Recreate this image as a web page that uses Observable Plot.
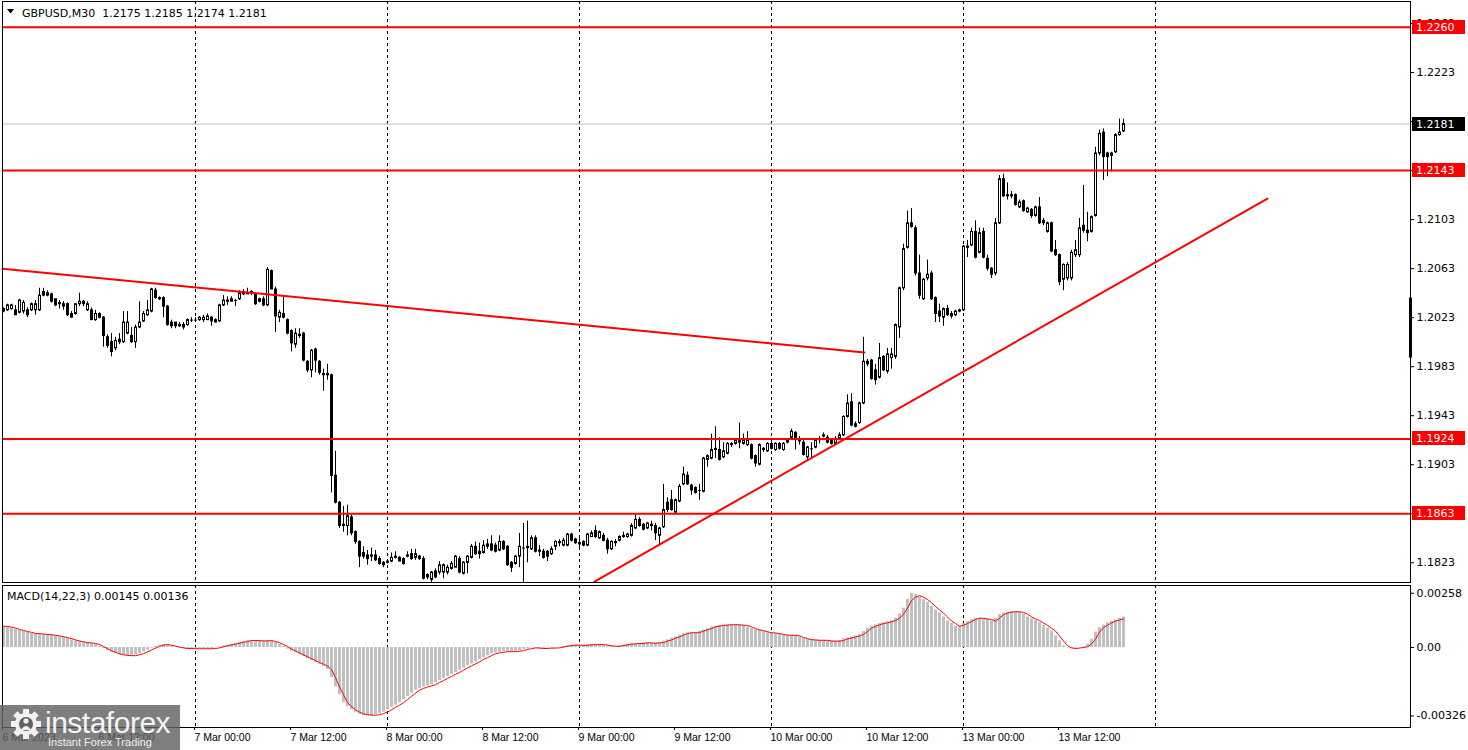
<!DOCTYPE html>
<html>
<head>
<meta charset="utf-8">
<script src="https://cdn.jsdelivr.net/npm/d3@7"></script>
<script src="https://cdn.jsdelivr.net/npm/@observablehq/plot@0.6"></script>
<style>
html,body{margin:0;padding:0;background:#fff;}
#chart{position:relative;width:1468px;height:750px;overflow:hidden;background:#fff;}
#main,#macd,#overlay,#logo{position:absolute;left:0;}
#main{top:0;}
#macd{top:583px;}
#overlay{top:0;pointer-events:none;}
#logo{top:705px;width:180px;height:45px;}
</style>
</head>
<body>
<div id="chart">
  <div id="main"></div>
  <div id="macd"></div>
  <svg id="overlay" width="1468" height="750"></svg>
  <svg id="logo" width="180" height="45">
    <rect x="0" y="0" width="180" height="45" fill="rgb(98,98,98)" fill-opacity="0.82"></rect>
    <g transform="translate(26,19)" fill="#f2f2f2">
      <circle r="11"></circle>
      <rect x="-3" y="-15" width="6" height="6"></rect>
      <rect x="-3" y="9" width="6" height="6"></rect>
      <rect x="-15" y="-3" width="6" height="6"></rect>
      <rect x="9" y="-3" width="6" height="6"></rect>
      <rect x="-3" y="-15" width="6" height="6" transform="rotate(45)"></rect>
      <rect x="-3" y="9" width="6" height="6" transform="rotate(45)"></rect>
      <rect x="-15" y="-3" width="6" height="6" transform="rotate(45)"></rect>
      <rect x="9" y="-3" width="6" height="6" transform="rotate(45)"></rect>
      <circle r="7" fill="rgb(98,98,98)"></circle>
      <circle cx="0" cy="-3" r="2.6"></circle>
      <path d="M-5,6 Q0,-2 5,6 Z"></path>
    </g>
    <text x="45" y="28" font-family="Liberation Sans" font-size="30" fill="#f4f4f4" letter-spacing="-0.5">instaforex</text>
    <text x="48" y="41" font-family="Liberation Sans" font-size="11" fill="#eeeeee">Instant Forex Trading</text>
  </svg>
</div>
<script>
// ---------------- DATA ----------------
const symbol = "GBPUSD,M30";
const macdName = "MACD(14,22,3)";
// M30 bars, bar 0 = 6 Mar 00:00 (48 bars per trading day)
const opens = [
1.2030,1.2029,1.2030,1.2029,1.2027,1.2028,1.2029,1.2029,1.2029,1.2029,1.2044,1.2043,
1.2042,1.2038,1.2035,1.2034,1.2034,1.2026,1.2026,1.2034,1.2036,1.2029,1.2029,1.2021,
1.2026,1.2023,1.2007,1.2003,1.1998,1.2005,1.2003,1.2010,1.2008,1.2003,1.2015,1.2020,
1.2025,1.2028,1.2045,1.2039,1.2039,1.2032,1.2019,1.2019,1.2017,1.2017,1.2017,1.2021,
1.2021,1.2021,1.2021,1.2021,1.2023,1.2019,1.2020,1.2033,1.2037,1.2036,1.2037,1.2038,
1.2043,1.2042,1.2043,1.2042,1.2036,1.2038,1.2033,1.2061,1.2046,1.2023,1.2026,1.2021,
1.2012,1.2001,1.2009,1.2010,1.1987,1.1980,1.1997,1.1987,1.1977,1.1976,1.1976,1.1894,
1.1872,1.1854,1.1853,1.1860,1.1848,1.1840,1.1831,1.1829,1.1829,1.1829,1.1826,1.1823,
1.1823,1.1824,1.1827,1.1827,1.1826,1.1828,1.1830,1.1827,1.1828,1.1826,1.1813,1.1809,
1.1816,1.1815,1.1815,1.1815,1.1818,1.1819,1.1826,1.1814,1.1823,1.1827,1.1836,1.1832,
1.1831,1.1836,1.1838,1.1837,1.1833,1.1840,1.1836,1.1823,1.1822,1.1828,1.1835,1.1835,
1.1834,1.1843,1.1832,1.1832,1.1832,1.1830,1.1836,1.1840,1.1837,1.1837,1.1846,1.1842,
1.1839,1.1840,1.1837,1.1844,1.1849,1.1843,1.1845,1.1841,1.1834,1.1840,1.1841,1.1845,
1.1844,1.1845,1.1851,1.1858,1.1854,1.1851,1.1854,1.1853,1.1845,1.1852,1.1872,1.1874,
1.1864,1.1873,1.1887,1.1894,1.1886,1.1884,1.1882,1.1881,1.1907,1.1908,1.1916,1.1915,
1.1909,1.1912,1.1920,1.1920,1.1923,1.1920,1.1919,1.1919,1.1910,1.1903,1.1916,1.1914,
1.1920,1.1915,1.1920,1.1915,1.1921,1.1925,1.1929,1.1923,1.1921,1.1909,1.1916,1.1917,
1.1923,1.1926,1.1925,1.1923,1.1920,1.1924,1.1927,1.1942,1.1954,1.1936,1.1937,1.1953,
1.1987,1.1988,1.1980,1.1974,1.1991,1.1979,1.1990,1.1991,1.2015,1.2047,1.2080,1.2100,
1.2096,1.2059,1.2038,1.2055,1.2059,1.2039,1.2028,1.2023,1.2030,1.2026,1.2025,1.2028,
1.2029,1.2081,1.2082,1.2093,1.2076,1.2093,1.2071,1.2063,1.2059,1.2100,1.2136,1.2123,
1.2122,1.2123,1.2113,1.2118,1.2109,1.2111,1.2106,1.2113,1.2102,1.2093,1.2100,1.2078,
1.2074,1.2054,1.2055,1.2055,1.2074,1.2074,1.2098,1.2094,1.2093,1.2106,1.2157,1.2174,
1.2157,1.2155,1.2158,1.2172,1.2175];
const highs = [
1.2031,1.2034,1.2034,1.2033,1.2038,1.2037,1.2031,1.2035,1.2037,1.2047,1.2047,1.2045,
1.2043,1.2038,1.2037,1.2036,1.2035,1.2028,1.2034,1.2043,1.2037,1.2036,1.2031,1.2029,
1.2027,1.2024,1.2009,1.2010,1.2007,1.2010,1.2028,1.2028,1.2015,1.2017,1.2036,1.2028,
1.2037,1.2047,1.2047,1.2040,1.2040,1.2033,1.2021,1.2019,1.2019,1.2019,1.2022,1.2023,
1.2023,1.2024,1.2025,1.2026,1.2024,1.2022,1.2034,1.2041,1.2040,1.2040,1.2038,1.2045,
1.2046,1.2047,1.2045,1.2043,1.2039,1.2040,1.2064,1.2062,1.2048,1.2029,1.2040,1.2022,
1.2013,1.2014,1.2014,1.2011,1.1988,1.1997,1.1998,1.1988,1.1981,1.1985,1.1977,1.1914,
1.1873,1.1869,1.1870,1.1862,1.1849,1.1841,1.1836,1.1833,1.1835,1.1833,1.1828,1.1824,
1.1825,1.1831,1.1832,1.1828,1.1827,1.1832,1.1834,1.1834,1.1829,1.1828,1.1814,1.1816,
1.1818,1.1824,1.1822,1.1821,1.1824,1.1829,1.1828,1.1824,1.1829,1.1838,1.1840,1.1839,
1.1841,1.1842,1.1845,1.1839,1.1845,1.1841,1.1837,1.1824,1.1829,1.1847,1.1855,1.1857,
1.1845,1.1845,1.1837,1.1834,1.1833,1.1836,1.1841,1.1842,1.1843,1.1847,1.1847,1.1843,
1.1843,1.1841,1.1847,1.1849,1.1853,1.1849,1.1847,1.1843,1.1841,1.1842,1.1845,1.1848,
1.1847,1.1855,1.1862,1.1860,1.1855,1.1856,1.1857,1.1855,1.1852,1.1887,1.1876,1.1882,
1.1875,1.1887,1.1901,1.1897,1.1887,1.1885,1.1887,1.1909,1.1911,1.1928,1.1934,1.1925,
1.1921,1.1921,1.1921,1.1924,1.1937,1.1928,1.1930,1.1920,1.1911,1.1920,1.1917,1.1921,
1.1922,1.1921,1.1921,1.1921,1.1924,1.1932,1.1930,1.1926,1.1923,1.1918,1.1921,1.1924,
1.1926,1.1929,1.1927,1.1924,1.1926,1.1929,1.1943,1.1960,1.1961,1.1938,1.1954,1.2007,
1.1989,1.1989,1.1985,1.2002,1.1992,1.1998,1.1998,1.2018,1.2048,1.2083,1.2110,1.2112,
1.2098,1.2074,1.2055,1.2070,1.2061,1.2040,1.2034,1.2031,1.2033,1.2028,1.2029,1.2030,
1.2082,1.2086,1.2096,1.2102,1.2096,1.2096,1.2074,1.2064,1.2104,1.2139,1.2140,1.2133,
1.2126,1.2124,1.2119,1.2119,1.2113,1.2112,1.2114,1.2121,1.2104,1.2101,1.2101,1.2086,
1.2075,1.2067,1.2068,1.2078,1.2086,1.2104,1.2131,1.2109,1.2106,1.2162,1.2176,1.2177,
1.2158,1.2158,1.2173,1.2185,1.2185];
const lows = [
1.2027,1.2028,1.2029,1.2025,1.2026,1.2026,1.2023,1.2028,1.2025,1.2028,1.2040,1.2040,
1.2035,1.2032,1.2030,1.2029,1.2024,1.2023,1.2025,1.2032,1.2032,1.2028,1.2021,1.2020,
1.2022,1.1999,1.1998,1.1991,1.1996,1.2001,1.2002,1.2009,1.2002,1.1998,1.2014,1.2019,
1.2024,1.2027,1.2038,1.2037,1.2023,1.2016,1.2014,1.2014,1.2015,1.2013,1.2016,1.2019,
1.2020,1.2020,1.2019,1.2021,1.2016,1.2019,1.2019,1.2032,1.2033,1.2036,1.2032,1.2037,
1.2041,1.2042,1.2041,1.2033,1.2035,1.2032,1.2032,1.2046,1.2011,1.2019,1.2022,1.2009,
1.1995,1.1998,1.2006,1.1987,1.1978,1.1974,1.1978,1.1976,1.1963,1.1972,1.1880,1.1871,
1.1851,1.1848,1.1845,1.1845,1.1838,1.1819,1.1826,1.1821,1.1824,1.1824,1.1821,1.1819,
1.1822,1.1823,1.1826,1.1824,1.1821,1.1827,1.1825,1.1825,1.1825,1.1809,1.1809,1.1807,
1.1810,1.1813,1.1810,1.1813,1.1817,1.1819,1.1814,1.1813,1.1814,1.1826,1.1829,1.1826,
1.1830,1.1834,1.1832,1.1831,1.1832,1.1833,1.1820,1.1815,1.1821,1.1819,1.1807,1.1823,
1.1833,1.1831,1.1828,1.1826,1.1824,1.1829,1.1833,1.1836,1.1836,1.1836,1.1840,1.1838,
1.1834,1.1836,1.1836,1.1844,1.1843,1.1842,1.1840,1.1830,1.1833,1.1836,1.1840,1.1843,
1.1843,1.1844,1.1850,1.1852,1.1849,1.1850,1.1849,1.1841,1.1838,1.1851,1.1864,1.1865,
1.1863,1.1872,1.1886,1.1886,1.1878,1.1879,1.1874,1.1880,1.1901,1.1907,1.1908,1.1906,
1.1908,1.1911,1.1917,1.1919,1.1916,1.1919,1.1918,1.1907,1.1901,1.1902,1.1913,1.1913,
1.1915,1.1914,1.1915,1.1914,1.1920,1.1924,1.1915,1.1919,1.1910,1.1906,1.1908,1.1916,
1.1920,1.1925,1.1920,1.1919,1.1919,1.1923,1.1926,1.1941,1.1934,1.1933,1.1936,1.1952,
1.1983,1.1972,1.1968,1.1973,1.1979,1.1977,1.1981,1.1989,1.2006,1.2045,1.2079,1.2096,
1.2057,1.2038,1.2037,1.2053,1.2037,1.2019,1.2019,1.2016,1.2024,1.2022,1.2024,1.2027,
1.2028,1.2072,1.2081,1.2071,1.2075,1.2071,1.2061,1.2055,1.2057,1.2099,1.2121,1.2119,
1.2120,1.2114,1.2112,1.2109,1.2108,1.2104,1.2105,1.2099,1.2098,1.2092,1.2076,1.2073,
1.2049,1.2045,1.2053,1.2053,1.2072,1.2072,1.2092,1.2085,1.2092,1.2105,1.2155,1.2135,
1.2138,1.2142,1.2157,1.2171,1.2174];
const closes = [
1.2028,1.2033,1.2033,1.2025,1.2037,1.2035,1.2025,1.2034,1.2034,1.2041,1.2041,1.2041,
1.2036,1.2033,1.2034,1.2032,1.2025,1.2023,1.2034,1.2036,1.2034,1.2034,1.2021,1.2026,
1.2023,1.2008,1.2000,1.1995,1.2004,1.2003,1.2019,1.2019,1.2003,1.2015,1.2019,1.2026,
1.2029,1.2046,1.2039,1.2038,1.2032,1.2017,1.2016,1.2016,1.2016,1.2015,1.2021,1.2021,
1.2021,1.2023,1.2023,1.2024,1.2020,1.2021,1.2033,1.2037,1.2036,1.2038,1.2037,1.2043,
1.2042,1.2043,1.2044,1.2034,1.2038,1.2033,1.2062,1.2046,1.2024,1.2027,1.2023,1.2010,
1.2002,1.2010,1.2008,1.1988,1.1980,1.1996,1.1988,1.1978,1.1976,1.1977,1.1894,1.1872,
1.1853,1.1853,1.1861,1.1847,1.1840,1.1828,1.1828,1.1826,1.1828,1.1825,1.1822,1.1821,
1.1824,1.1827,1.1828,1.1824,1.1822,1.1829,1.1826,1.1830,1.1826,1.1810,1.1811,1.1815,
1.1811,1.1821,1.1821,1.1819,1.1822,1.1828,1.1815,1.1823,1.1828,1.1836,1.1830,1.1830,
1.1837,1.1838,1.1833,1.1832,1.1840,1.1834,1.1821,1.1819,1.1828,1.1836,1.1835,1.1836,
1.1843,1.1832,1.1833,1.1827,1.1828,1.1834,1.1840,1.1839,1.1841,1.1846,1.1841,1.1839,
1.1838,1.1837,1.1846,1.1847,1.1844,1.1848,1.1841,1.1834,1.1840,1.1839,1.1844,1.1844,
1.1846,1.1853,1.1858,1.1853,1.1850,1.1855,1.1853,1.1847,1.1851,1.1866,1.1866,1.1866,
1.1874,1.1885,1.1895,1.1887,1.1882,1.1880,1.1882,1.1908,1.1910,1.1915,1.1915,1.1907,
1.1914,1.1920,1.1919,1.1923,1.1921,1.1923,1.1923,1.1908,1.1904,1.1919,1.1915,1.1920,
1.1916,1.1920,1.1916,1.1920,1.1923,1.1930,1.1924,1.1922,1.1911,1.1917,1.1916,1.1923,
1.1924,1.1927,1.1921,1.1920,1.1924,1.1927,1.1942,1.1953,1.1935,1.1934,1.1953,1.1987,
1.1985,1.1973,1.1972,1.1990,1.1980,1.1993,1.1993,1.2017,1.2047,1.2079,1.2100,1.2097,
1.2059,1.2041,1.2054,1.2058,1.2038,1.2026,1.2024,1.2030,1.2025,1.2024,1.2028,1.2029,
1.2081,1.2080,1.2093,1.2072,1.2092,1.2072,1.2063,1.2058,1.2100,1.2136,1.2122,1.2122,
1.2123,1.2115,1.2117,1.2110,1.2112,1.2106,1.2113,1.2100,1.2100,1.2100,1.2077,1.2074,
1.2052,1.2066,1.2066,1.2076,1.2078,1.2096,1.2094,1.2092,1.2105,1.2157,1.2173,1.2154,
1.2154,1.2157,1.2172,1.2174,1.2181];
const macdMain = [
0.00100,0.00097,0.00092,0.00086,0.00081,0.00076,0.00072,0.00067,0.00066,0.00064,0.00062,0.00061,
0.00058,0.00055,0.00051,0.00047,0.00042,0.00036,0.00031,0.00027,0.00023,0.00022,0.00019,0.00014,
0.00005,-0.00006,-0.00015,-0.00023,-0.00030,-0.00035,-0.00038,-0.00040,-0.00039,-0.00035,-0.00029,-0.00021,
-0.00012,-0.00003,0.00005,0.00011,0.00014,0.00013,0.00006,0.00002,-0.00002,-0.00005,-0.00005,-0.00006,
-0.00006,-0.00006,-0.00006,-0.00006,-0.00005,-0.00002,0.00003,0.00008,0.00012,0.00016,0.00020,0.00025,
0.00028,0.00033,0.00033,0.00033,0.00031,0.00031,0.00033,0.00028,0.00023,0.00014,0.00005,-0.00008,
-0.00017,-0.00026,-0.00035,-0.00044,-0.00053,-0.00062,-0.00072,-0.00080,-0.00089,-0.00105,-0.00143,-0.00188,
-0.00225,-0.00263,-0.00281,-0.00297,-0.00308,-0.00318,-0.00324,-0.00326,-0.00325,-0.00320,-0.00315,-0.00308,
-0.00297,-0.00285,-0.00275,-0.00263,-0.00248,-0.00233,-0.00218,-0.00203,-0.00195,-0.00188,-0.00183,-0.00177,
-0.00167,-0.00158,-0.00147,-0.00138,-0.00128,-0.00119,-0.00108,-0.00098,-0.00087,-0.00078,-0.00069,-0.00057,
-0.00048,-0.00039,-0.00030,-0.00026,-0.00023,-0.00020,-0.00020,-0.00020,-0.00018,-0.00015,-0.00009,-0.00006,
-0.00002,-0.00003,-0.00005,-0.00005,-0.00003,-0.00003,-0.00002,0.00002,0.00005,0.00009,0.00011,0.00011,
0.00009,0.00011,0.00012,0.00014,0.00014,0.00014,0.00012,0.00008,0.00006,0.00005,0.00009,0.00012,
0.00016,0.00017,0.00019,0.00019,0.00022,0.00022,0.00020,0.00022,0.00023,0.00030,0.00036,0.00044,
0.00050,0.00059,0.00066,0.00070,0.00070,0.00070,0.00078,0.00084,0.00090,0.00098,0.00101,0.00105,
0.00106,0.00108,0.00108,0.00108,0.00106,0.00105,0.00098,0.00090,0.00084,0.00080,0.00075,0.00070,
0.00069,0.00066,0.00062,0.00059,0.00058,0.00058,0.00055,0.00048,0.00042,0.00037,0.00036,0.00034,
0.00034,0.00034,0.00031,0.00030,0.00030,0.00033,0.00041,0.00045,0.00050,0.00055,0.00062,0.00076,
0.00092,0.00101,0.00108,0.00114,0.00117,0.00122,0.00128,0.00139,0.00158,0.00187,0.00230,0.00258,
0.00252,0.00240,0.00228,0.00214,0.00195,0.00179,0.00164,0.00145,0.00126,0.00114,0.00101,0.00098,
0.00114,0.00123,0.00133,0.00139,0.00139,0.00136,0.00133,0.00126,0.00139,0.00156,0.00164,0.00168,
0.00170,0.00170,0.00167,0.00159,0.00145,0.00136,0.00128,0.00117,0.00105,0.00092,0.00078,0.00055,
0.00031,0.00008,-0.00002,-0.00005,-0.00003,0.00000,0.00003,0.00016,0.00039,0.00073,0.00094,0.00106,
0.00117,0.00125,0.00131,0.00138,0.00145];
const macdSignal = [
0.00101,0.00100,0.00097,0.00092,0.00086,0.00081,0.00076,0.00072,0.00067,0.00066,0.00064,0.00062,
0.00061,0.00058,0.00055,0.00051,0.00047,0.00042,0.00036,0.00031,0.00027,0.00023,0.00022,0.00019,
0.00014,0.00005,-0.00006,-0.00015,-0.00023,-0.00030,-0.00035,-0.00038,-0.00039,-0.00039,-0.00035,-0.00029,
-0.00021,-0.00012,-0.00003,0.00005,0.00011,0.00014,0.00011,0.00006,0.00002,-0.00002,-0.00005,-0.00005,
-0.00006,-0.00006,-0.00006,-0.00006,-0.00006,-0.00005,-0.00002,0.00003,0.00008,0.00012,0.00016,0.00020,
0.00025,0.00028,0.00033,0.00033,0.00033,0.00031,0.00031,0.00033,0.00028,0.00023,0.00014,0.00005,
-0.00008,-0.00017,-0.00026,-0.00035,-0.00044,-0.00053,-0.00062,-0.00072,-0.00080,-0.00089,-0.00105,-0.00143,
-0.00188,-0.00225,-0.00263,-0.00281,-0.00297,-0.00308,-0.00316,-0.00320,-0.00322,-0.00323,-0.00320,-0.00315,
-0.00308,-0.00297,-0.00285,-0.00275,-0.00263,-0.00248,-0.00233,-0.00218,-0.00203,-0.00195,-0.00188,-0.00183,
-0.00177,-0.00167,-0.00158,-0.00147,-0.00138,-0.00128,-0.00119,-0.00108,-0.00098,-0.00087,-0.00078,-0.00069,
-0.00057,-0.00048,-0.00039,-0.00030,-0.00026,-0.00023,-0.00020,-0.00020,-0.00020,-0.00018,-0.00015,-0.00009,
-0.00006,-0.00002,-0.00003,-0.00005,-0.00005,-0.00003,-0.00003,-0.00002,0.00002,0.00005,0.00009,0.00011,
0.00011,0.00009,0.00011,0.00012,0.00014,0.00014,0.00014,0.00012,0.00008,0.00006,0.00005,0.00009,
0.00012,0.00016,0.00017,0.00019,0.00019,0.00022,0.00022,0.00020,0.00022,0.00023,0.00030,0.00036,
0.00044,0.00050,0.00059,0.00066,0.00070,0.00070,0.00070,0.00078,0.00084,0.00090,0.00098,0.00101,
0.00105,0.00106,0.00108,0.00108,0.00108,0.00106,0.00105,0.00098,0.00090,0.00084,0.00080,0.00075,
0.00070,0.00069,0.00066,0.00062,0.00059,0.00058,0.00058,0.00055,0.00048,0.00042,0.00037,0.00036,
0.00034,0.00034,0.00034,0.00031,0.00030,0.00030,0.00033,0.00041,0.00045,0.00050,0.00055,0.00062,
0.00076,0.00092,0.00101,0.00108,0.00114,0.00117,0.00122,0.00128,0.00139,0.00158,0.00187,0.00223,
0.00239,0.00247,0.00240,0.00228,0.00214,0.00195,0.00179,0.00164,0.00145,0.00126,0.00114,0.00101,
0.00105,0.00114,0.00123,0.00133,0.00139,0.00139,0.00136,0.00133,0.00126,0.00139,0.00156,0.00164,
0.00168,0.00170,0.00170,0.00167,0.00159,0.00145,0.00136,0.00128,0.00117,0.00105,0.00092,0.00078,
0.00055,0.00031,0.00008,-0.00002,-0.00005,-0.00003,0.00000,0.00003,0.00016,0.00039,0.00073,0.00094,
0.00106,0.00117,0.00125,0.00131,0.00136];

const levelPrices = [1.2260, 1.2143, 1.1924, 1.1863];
const currentPrice = 1.2181;
const priceTicks = [1.2263, 1.2223, 1.2183, 1.2143, 1.2103, 1.2063, 1.2023, 1.1983, 1.1943, 1.1903, 1.1863, 1.1823];
const macdTicks = [0.00258, 0, -0.00326];
const macdTickLabels = ["0.00258", "0.00", "-0.00326"];
const timeTickBars = [0, 24, 48, 72, 96, 120, 144, 168, 192, 216, 240, 264];
const timeTickLabels = ["6 Mar 2023", "6 Mar 12:00", "7 Mar 00:00", "7 Mar 12:00", "8 Mar 00:00", "8 Mar 12:00",
  "9 Mar 00:00", "9 Mar 12:00", "10 Mar 00:00", "10 Mar 12:00", "13 Mar 00:00", "13 Mar 12:00"];
const dayStartBars = [48, 96, 144, 192, 240, 288];
const downTrendBars = [-0.25, 215.25];
const downTrendPrices = [1.2063, 1.19946];
const upTrendBars = [147.75, 316];
const upTrendPrices = [1.18077, 1.21202];
const axisMarker = [1.2039, 1.1990];
const xDomain = [-0.25, 351.75];
const priceDomain = [1.18069, 1.22810];
const macdDomain = [-0.00381, 0.00295];

// ---------------- BUILD ----------------
const bars = opens.map((o, k) => ({bar: k, open: o, high: highs[k], low: lows[k], close: closes[k]}));
const bulls = bars.filter(d => d.close > d.open);
const bears = bars.filter(d => d.close < d.open);
const dojis = bars.filter(d => d.close === d.open);
const downTrend = downTrendBars.map((b, k) => ({bar: b, price: downTrendPrices[k]}));
const upTrend = upTrendBars.map((b, k) => ({bar: b, price: upTrendPrices[k]}));
const macdRows = macdMain.map((v, k) => ({bar: k, main: v, signal: macdSignal[k]}));

const tags = [
  {price: levelPrices[0], color: "#ff0000"},
  {price: currentPrice, color: "#000000"},
  {price: levelPrices[1], color: "#ff0000"},
  {price: levelPrices[2], color: "#ff0000"},
  {price: levelPrices[3], color: "#ff0000"}
];

function rightTags(index, scales, values, dims) {
  const g = d3.create("svg:g").attr("text-anchor", "start");
  const x0 = dims.width - dims.marginRight;
  const ya = scales.y(axisMarker[0]), yb = scales.y(axisMarker[1]);
  g.append("rect").attr("x", x0 - 1).attr("y", ya).attr("width", 3).attr("height", yb - ya).attr("fill", "#000");
  for (const t of tags) {
    const y = Math.round(scales.y(t.price));
    g.append("rect").attr("x", x0 + 2).attr("y", y - 7).attr("width", 53).attr("height", 14).attr("fill", t.color);
    g.append("text").attr("x", x0 + 6).attr("y", y).attr("dy", "0.36em").attr("text-anchor", "start")
      .attr("fill", "#fff").text(t.price.toFixed(4));
  }
  return g.node();
}

// half-pixel shift (in bar units) so candle outlines land on whole pixels
const px = 0.125;

const mainPlot = Plot.plot({
  width: 1468, height: 583,
  marginLeft: 2, marginRight: 58, marginTop: 1, marginBottom: 1,
  x: {domain: xDomain, axis: null},
  y: {domain: priceDomain},
  style: {fontFamily: "DejaVu Sans", fontSize: "11px", color: "#000", background: "#fff"},
  marks: [
    Plot.ruleX(dayStartBars, {stroke: "#000", strokeDasharray: "3,3", strokeWidth: 1}),
    Plot.ruleY([currentPrice], {stroke: "#c0c0c0", strokeWidth: 1}),
    Plot.ruleX(bars, {x: "bar", y1: "low", y2: "high", stroke: "#000", strokeWidth: 1}),
    Plot.rect(bears, {x1: d => d.bar - 0.25 + px, x2: d => d.bar + 0.25 + px, y1: "open", y2: "close", fill: "#000", stroke: "#000", strokeWidth: 1}),
    Plot.rect(bulls, {x1: d => d.bar - 0.25 + px, x2: d => d.bar + 0.25 + px, y1: "open", y2: "close", fill: "#fff", stroke: "#000", strokeWidth: 1}),
    Plot.ruleY(dojis, {y: "open", x1: d => d.bar - 0.25, x2: d => d.bar + 0.5, stroke: "#000", strokeWidth: 1}),
    Plot.ruleY(levelPrices, {stroke: "#ff0000", strokeWidth: 2}),
    Plot.line(downTrend, {x: "bar", y: "price", stroke: "#ff0000", strokeWidth: 2}),
    Plot.line(upTrend, {x: "bar", y: "price", stroke: "#ff0000", strokeWidth: 2}),
    Plot.frame({stroke: "#000"}),
    Plot.axisY(priceTicks, {anchor: "right", tickSize: 3, tickPadding: 3, tickFormat: d => d.toFixed(4), label: null}),
    rightTags
  ]
});
document.getElementById("main").appendChild(mainPlot);

const macdPlot = Plot.plot({
  width: 1468, height: 167,
  marginLeft: 2, marginRight: 58, marginTop: 2, marginBottom: 23,
  x: {domain: xDomain},
  y: {domain: macdDomain},
  style: {fontFamily: "DejaVu Sans", fontSize: "11px", color: "#000", background: "#fff"},
  marks: [
    Plot.ruleX(dayStartBars, {stroke: "#000", strokeDasharray: "3,3", strokeWidth: 1}),
    Plot.rect(macdRows, {x1: d => d.bar - 0.25, x2: d => d.bar + 0.5, y1: 0, y2: "main", fill: "#c0c0c0"}),
    Plot.line(macdRows, {x: "bar", y: "signal", stroke: "#ff0000", strokeWidth: 1}),
    Plot.frame({stroke: "#000"}),
    Plot.axisY(macdTicks, {anchor: "right", tickSize: 3, tickPadding: 3, tickFormat: d => macdTickLabels[macdTicks.indexOf(d)], label: null}),
    Plot.axisX(timeTickBars, {anchor: "bottom", tickSize: 3, tickPadding: 3, textAnchor: "start", dx: -1,
      tickFormat: d => timeTickLabels[timeTickBars.indexOf(d)], label: null, fontFamily: "Liberation Sans", fontSize: 10.5})
  ]
});
document.getElementById("macd").appendChild(macdPlot);

// header texts
const ov = d3.select("#overlay");
ov.append("path").attr("d", "M7,9H14L10.5,13.5Z").attr("fill", "#000");
const last = bars[bars.length - 1];
ov.append("text").attr("x", 22).attr("y", 17).attr("font-family", "DejaVu Sans").attr("font-size", 11).attr("fill", "#000")
  .style("white-space", "pre")
  .text(`${symbol}  ${last.open.toFixed(4)} ${last.high.toFixed(4)} ${last.low.toFixed(4)} ${last.close.toFixed(4)}`);
ov.append("text").attr("x", 7).attr("y", 600).attr("font-family", "DejaVu Sans").attr("font-size", 11).attr("fill", "#000")
  .style("white-space", "pre")
  .text(`${macdName} ${macdMain[macdMain.length - 1].toFixed(5)} ${macdSignal[macdSignal.length - 1].toFixed(5)}`);
</script>
</body>
</html>
